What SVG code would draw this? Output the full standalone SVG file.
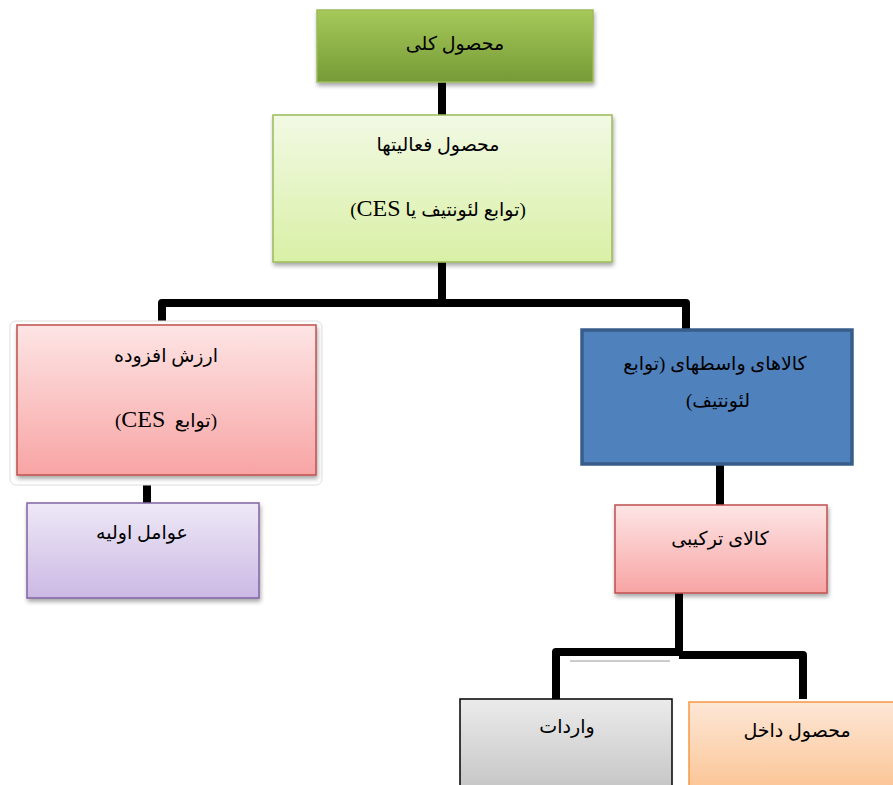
<svg xmlns="http://www.w3.org/2000/svg" width="893" height="785" viewBox="0 0 893 785">
<defs>
<filter id="sh" x="-10%" y="-10%" width="125%" height="130%"><feDropShadow dx="1" dy="3" stdDeviation="2" flood-color="#000" flood-opacity="0.35"/></filter>
<linearGradient id="gTop" x1="0" y1="0" x2="0" y2="1"><stop offset="0" stop-color="#A6C95A"/><stop offset="1" stop-color="#769A36"/></linearGradient>
<linearGradient id="gLight" x1="0" y1="0" x2="0" y2="1"><stop offset="0" stop-color="#F2F9E4"/><stop offset="1" stop-color="#D9F0A6"/></linearGradient>
<linearGradient id="gPink" x1="0" y1="0" x2="0" y2="1"><stop offset="0" stop-color="#FDE5E5"/><stop offset="1" stop-color="#F8A4A4"/></linearGradient>
<linearGradient id="gLav" x1="0" y1="0" x2="0" y2="1"><stop offset="0" stop-color="#EEE8F6"/><stop offset="1" stop-color="#CBB9E4"/></linearGradient>
<linearGradient id="gGray" x1="0" y1="0" x2="0" y2="1"><stop offset="0" stop-color="#EBEBEB"/><stop offset="1" stop-color="#C2C2C2"/></linearGradient>
<linearGradient id="gOrange" x1="0" y1="0" x2="0" y2="1"><stop offset="0" stop-color="#FDE7D6"/><stop offset="1" stop-color="#FBC08C"/></linearGradient>
</defs>
<style>
.t{font-family:"Liberation Serif","DejaVu Sans",serif;font-size:19px;fill:#000;text-anchor:middle;direction:rtl;unicode-bidi:embed;white-space:pre}
.l{font-size:24px}
.c{fill:none;stroke:#000;stroke-width:8;stroke-linejoin:round}
</style>
<g id="connectors">
<path class="c" d="M442 82V115"/>
<path class="c" d="M442 262V303H162V325M442 303H686V329"/>
<path class="c" d="M147 475V503"/>
<path class="c" d="M720 465V505"/>
<path class="c" d="M679 593V655"/>
<path class="c" d="M556 699V652H679"/>
<path class="c" d="M679 655H803V699"/>
<path d="M570 661H670" stroke="#bbb" stroke-width="1.5" fill="none"/>
</g>
<g id="n-total">
<rect x="317" y="10" width="276" height="72" fill="url(#gTop)" stroke="#9BBB59" stroke-width="1.5" filter="url(#sh)"/>
<text class="t" x="455" y="50">محصول کلی</text>
</g>
<g id="n-activities">
<rect x="273" y="115" width="339" height="147" fill="url(#gLight)" stroke="#9BBB59" stroke-width="1.5" filter="url(#sh)"/>
<text class="t" x="438" y="151">محصول فعالیتها</text>
<text class="t" x="438" y="216">(توابع لئونتیف یا <tspan class="l">CES</tspan>)</text>
</g>
<g id="n-value-added">
<rect x="10" y="321" width="312" height="164" rx="6" fill="#fff" stroke="#ddd" stroke-width="1"/>
<rect x="17" y="325" width="299" height="150" fill="url(#gPink)" stroke="#C0504D" stroke-width="1.5" filter="url(#sh)"/>
<text class="t" x="166" y="362">ارزش افزوده</text>
<text class="t" x="166" y="427">(توابع  <tspan class="l">CES</tspan>)</text>
</g>
<g id="n-intermediate">
<rect x="582" y="330" width="270" height="134" fill="#4F81BD" stroke="#385D8A" stroke-width="3.5"/>
<text class="t" x="715" y="370">کالاهای واسطهای (توابع</text>
<text class="t" x="718" y="407">لئونتیف)</text>
</g>
<g id="n-primary">
<rect x="27" y="503" width="232" height="95" fill="url(#gLav)" stroke="#8064A2" stroke-width="1.5" filter="url(#sh)"/>
<text class="t" x="142" y="539">عوامل اولیه</text>
</g>
<g id="n-composite">
<rect x="615" y="505" width="212" height="88" fill="url(#gPink)" stroke="#C0504D" stroke-width="1.5" filter="url(#sh)"/>
<text class="t" x="720" y="545">کالای ترکیبی</text>
</g>
<g id="n-imports">
<rect x="460" y="699" width="212" height="100" fill="url(#gGray)" stroke="#000" stroke-width="1.5"/>
<text class="t" x="567" y="733">واردات</text>
</g>
<g id="n-domestic">
<rect x="689" y="702" width="220" height="100" fill="url(#gOrange)" stroke="#F79646" stroke-width="1.5"/>
<text class="t" x="797" y="737">محصول داخل</text>
</g>
</svg>
